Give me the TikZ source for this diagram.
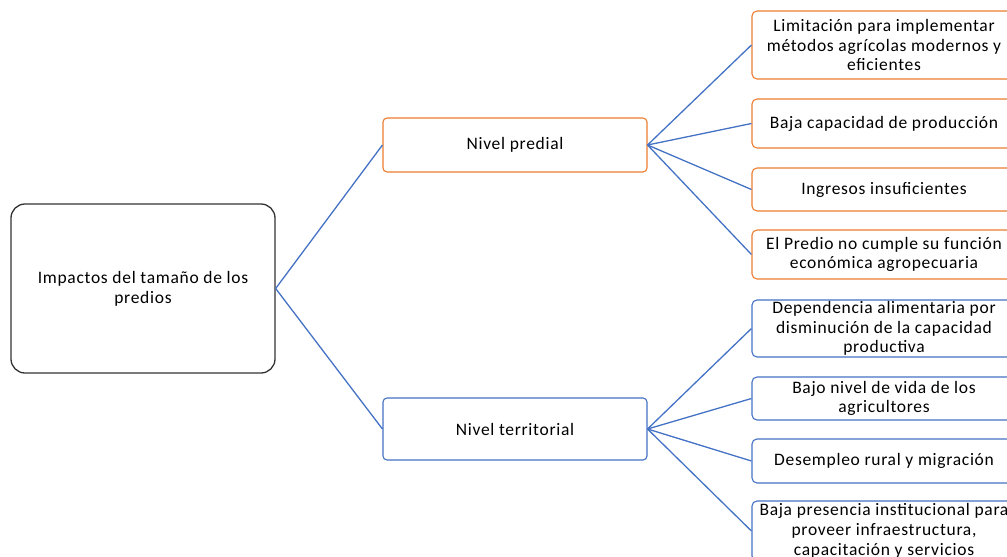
\documentclass[tikz,border=0pt]{standalone}
\usepackage{fontspec}
\setmainfont[LetterSpace=4]{Carlito}
\definecolor{naranja}{RGB}{237,125,49}
\definecolor{azul}{RGB}{68,114,196}
\begin{document}
\begin{tikzpicture}[x=1pt,y=-1pt,
    every node/.style={font=\fontsize{17.5pt}{19.8pt}\selectfont,align=center,inner sep=0pt},
    raiz/.style={draw=black!80,line width=1.3pt,rounded corners=14pt,minimum width=264pt,minimum height=169pt},
    nivel/.style={draw=#1,line width=1.1pt,rounded corners=4pt,minimum width=264pt},
    efecto/.style={draw=#1,line width=1.1pt,rounded corners=5pt,minimum width=264pt},
    rama/.style={draw=azul,line width=1.3pt}]
    \useasboundingbox (0,0) rectangle (1007,557);
    \path
    % Root
    (143,288.5) node[raiz] (impactos) {Impactos del tamaño de los\\predios}

    % Levels
    (515,145)   node[nivel=naranja,minimum height=54pt] (predial) {Nivel predial}
    (515,429)   node[nivel=azul,minimum height=62pt] (territorial) {Nivel territorial}

    % Effects at farm level
    (884,45)    node[efecto=naranja,minimum height=68pt] (limitacion) {Limitación para implementar\\métodos  agrícolas modernos y\\eficientes}
    (884,123.5) node[efecto=naranja,minimum height=49pt] (produccion) {Baja capacidad de producción}
    (884,189.5) node[efecto=naranja,minimum height=43pt] (ingresos) {Ingresos insuficientes}
    (884,254.5) node[efecto=naranja,minimum height=49pt] (funcion) {El Predio no cumple su función\\económica agropecuaria}

    % Effects at territorial level
    (884,328.5) node[efecto=azul,minimum height=57pt] (dependencia) {Dependencia alimentaria por\\disminución de la capacidad\\productiva}
    (884,398.5) node[efecto=azul,minimum height=43pt] (vida) {Bajo nivel de vida de  los\\agricultores}
    (884,461)   node[efecto=azul,minimum height=44pt] (desempleo) {Desempleo  rural y migración}
    (884,531)   node[efecto=azul,minimum height=60pt] (presencia) {Baja presencia institucional  para\\proveer  infraestructura,\\capacitación y servicios};

    % Link the different parts of the graph
    \draw[rama] (impactos.east)--(predial.west);
    \draw[rama] (impactos.east)--(territorial.west);
    \foreach \n in {limitacion,produccion,ingresos,funcion}
        \draw[rama] (predial.east)--(\n.west);
    \foreach \n in {dependencia,vida,desempleo,presencia}
        \draw[rama] (territorial.east)--(\n.west);
\end{tikzpicture}
\end{document}
